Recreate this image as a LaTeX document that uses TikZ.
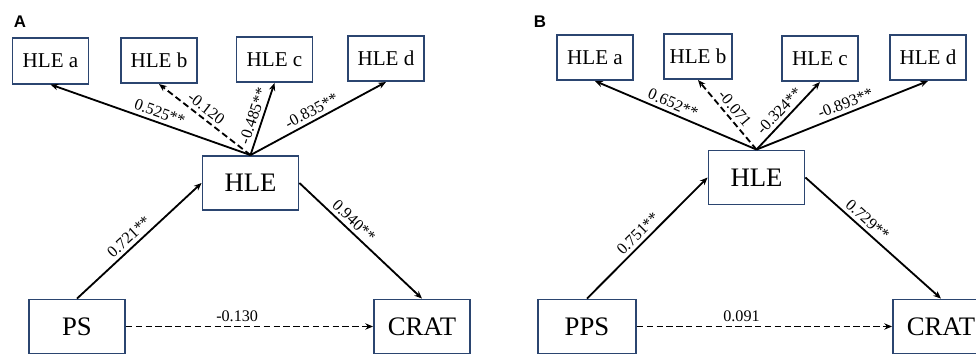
\documentclass[tikz,border=0pt]{standalone}
\usepackage{fontspec}
\setmainfont{Liberation Serif}
\newfontfamily\tagfont{Liberation Sans}
\usepackage{tikz}
\usetikzlibrary{arrows.meta,positioning}
\usepackage{xcolor}
\definecolor{boxline}{HTML}{2B4570}

\begin{document}
\begin{tikzpicture}[x=0.025cm,y=-0.025cm,
  small/.style={draw=boxline,line width=1.3pt,minimum width=1.9cm,minimum height=1.13cm,inner sep=2pt,font=\fontsize{15}{17}\selectfont},
  big/.style={draw=boxline,line width=1.3pt,minimum width=2.4cm,minimum height=1.35cm,inner sep=2pt,font=\fontsize{19}{22}\selectfont},
  arr/.style={line width=1.3pt,-{Stealth[length=5.5pt,width=4.5pt]}},
  dashline/.style={dash pattern=on 4.5pt off 2.5pt},
  wt/.style={sloped,above=1.5pt,inner sep=1pt,font=\fontsize{11.5}{13}\selectfont},
  tag/.style={font=\tagfont\bfseries\fontsize{12}{14}\selectfont}]
  \clip (0,0) rectangle (976,354);

  % Panel A
  \node[tag] (tagA) at (20,22) {A};
  \node[small] (Aa) at (50.5,61) {HLE a};
  \node[small] (Ab) at (159,60.5) {HLE b};
  \node[small] (Ac) at (274.5,59.5) {HLE c};
  \node[small] (Ad) at (386,58.5) {HLE d};
  \node[big] (Ahle) at (250.5,183) {HLE};
  \node[big] (Aps) at (77,326.5) {PS};
  \node[big] (Acrat) at (422,326.5) {CRAT};

  \draw[arr] (Ahle.north) -- node[wt,pos=.47] {0.525**} (Aa.south);
  \draw[arr,dashline] (Ahle.north) -- node[wt,pos=.55] {-0.120} (Ab.south);
  \draw[arr] (Ahle.north) -- node[wt,pos=.5] {-0.485**} (Ac.south);
  \draw[arr] (Ahle.north) -- node[wt,pos=.485] {-0.835**} (Ad.south);
  \draw[arr] (Aps.north) -- node[wt,pos=.47] {0.721**} (Ahle.west);
  \draw[arr] (Ahle.east) -- node[wt,pos=.39] {0.940**} (Acrat.north);
  \draw[arr,dashline] (Aps) -- node[wt,pos=.45] {-0.130} (Acrat);

  % Panel B
  \node[tag] (tagB) at (540,22) {B};
  \node[small] (Ba) at (595,57.5) {HLE a};
  \node[small,minimum width=1.7cm] (Bb) at (698,56.5) {HLE b};
  \node[small] (Bc) at (820,58.5) {HLE c};
  \node[small] (Bd) at (928,57.5) {HLE d};
  \node[big] (Bhle) at (756.5,177.5) {HLE};
  \node[big,minimum width=2.45cm] (Bpps) at (587,326.5) {PPS};
  \node[big] (Bcrat) at (941,326.5) {CRAT};

  \draw[arr] (Bhle.north) -- node[wt,pos=.54] {0.652**} (Ba.south);
  \draw[arr,dashline] (Bhle.north) -- node[wt,pos=.5] {-0.071} (Bb.south);
  \draw[arr] (Bhle.north) -- node[wt,pos=.47] {-0.324**} (Bc.south);
  \draw[arr] (Bhle.north) -- node[wt,pos=.54] {-0.893**} (Bd.south);
  \draw[arr] (Bpps.north) -- node[wt,pos=.48] {0.751**} (Bhle.west);
  \draw[arr] (Bhle.east) -- node[wt,pos=.41] {0.729**} (Bcrat.north);
  \draw[arr,dashline] (Bpps) -- node[wt,pos=.41] {0.091} (Bcrat);
\end{tikzpicture}
\end{document}
